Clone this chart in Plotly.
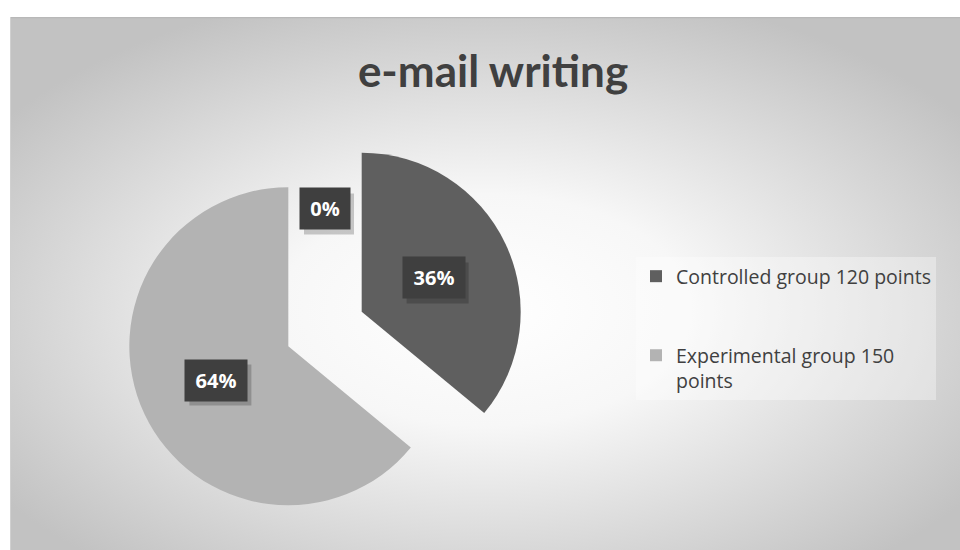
import base64, math
import plotly.graph_objects as go

# ---- data ----
categories = ["Controlled group 120 points<br> <br> ", "Experimental group 150<br>points"]
percent_values = [36, 64]
zero_category_value = [0]
slice_colors = ["#5f5f5f", "#b3b3b3"]
title_text = "e-mail writing"

W, H = 960, 550
# pie geometry (pixels)
cx, cy = 325, 329
pull = 0.255
r = 159
box = 2 * r * (1 + pull)

svg = f'''<svg xmlns="http://www.w3.org/2000/svg" width="950" height="533" viewBox="0 0 950 533">
<defs><radialGradient id="g" cx="0.5" cy="0.55" r="0.62" gradientUnits="objectBoundingBox">
<stop offset="0" stop-color="#ffffff"/><stop offset="0.35" stop-color="#f7f7f7"/>
<stop offset="1" stop-color="#c2c2c2"/></radialGradient></defs>
<rect x="0" y="0" width="950" height="533" fill="url(#g)"/>
<line x1="0" y1="0.5" x2="950" y2="0.5" stroke="#b8b8b8" stroke-width="1.5"/>
<line x1="0.5" y1="0" x2="0.5" y2="533" stroke="#d0d0d0" stroke-width="1"/>
</svg>'''
src = "data:image/svg+xml;base64," + base64.b64encode(svg.encode()).decode()

fig = go.Figure()
fig.add_trace(go.Pie(
    labels=categories,
    values=percent_values,
    sort=False,
    direction="clockwise",
    rotation=0,
    pull=[pull, pull],
    marker=dict(colors=slice_colors, line=dict(width=0)),
    textinfo="none",
    hoverinfo="percent",
    domain=dict(x=[(cx - box / 2) / W, (cx + box / 2) / W],
                y=[(H - cy - box / 2) / H, (H - cy + box / 2) / H]),
))

# data labels at half-radius along each slice's mid angle
annotations = []
shapes = []
total = sum(percent_values) + sum(zero_category_value)
start = 0.0
all_vals = percent_values + zero_category_value
for i, v in enumerate(all_vals):
    frac = v / total
    mid = (start + frac / 2) * 2 * math.pi
    if v > 0:
        ox = cx + pull * r * math.sin(mid)
        oy = cy - pull * r * math.cos(mid)
        dist = 0.5 * r
    else:
        mid = 0.0
        ox, oy = cx, cy
        dist = 0.755 * r
    lx = ox + dist * math.sin(mid)
    ly = oy - dist * math.cos(mid)
    start += frac
    txt = f"{round(frac * 100)}%"
    bw = 12 * len(txt) + 12
    # drop shadow behind the label box
    shapes.append(dict(type="rect", xref="paper", yref="paper", layer="above",
                       x0=(lx - bw / 2 - 7 + 4) / W, x1=(lx + bw / 2 + 7 + 4) / W,
                       y0=1 - (ly + 20.5 + 5) / H, y1=1 - (ly - 20.5 + 5) / H,
                       fillcolor="rgba(0,0,0,0.2)", line=dict(width=0)))
    annotations.append(dict(x=lx / W, y=1 - ly / H, xref="paper", yref="paper",
                            xanchor="center", yanchor="middle",
                            text=f"<b>{txt}</b>", showarrow=False, bgcolor="#3f3f3f",
                            width=bw, height=27,
                            font=dict(family="Open Sans", size=20, color="white"),
                            borderpad=7))

fig.update_layout(
    width=W, height=H,
    margin=dict(l=0, r=0, t=0, b=0),
    paper_bgcolor="white",
    plot_bgcolor="white",
    images=[dict(source=src, xref="paper", yref="paper", x=10 / W, y=1 - 17 / H,
                 sizex=950 / W, sizey=533 / H, sizing="stretch", layer="below",
                 xanchor="left", yanchor="top")],
    title=dict(text=f"<b>{title_text}</b>", x=493 / W, xanchor="center", y=1 - 72 / H,
               yanchor="middle", font=dict(family="Lato", size=44, color="#404040")),
    showlegend=True,
    legend=dict(x=636 / W, y=1 - 257 / H, xanchor="left", yanchor="top", valign="top",
                bgcolor="rgba(255,255,255,0.35)", font=dict(family="Open Sans", size=19.5, color="#404040"),
                itemsizing="constant", traceorder="normal"),
    shapes=shapes,
    annotations=annotations,
)

fig.write_html("out.html")
